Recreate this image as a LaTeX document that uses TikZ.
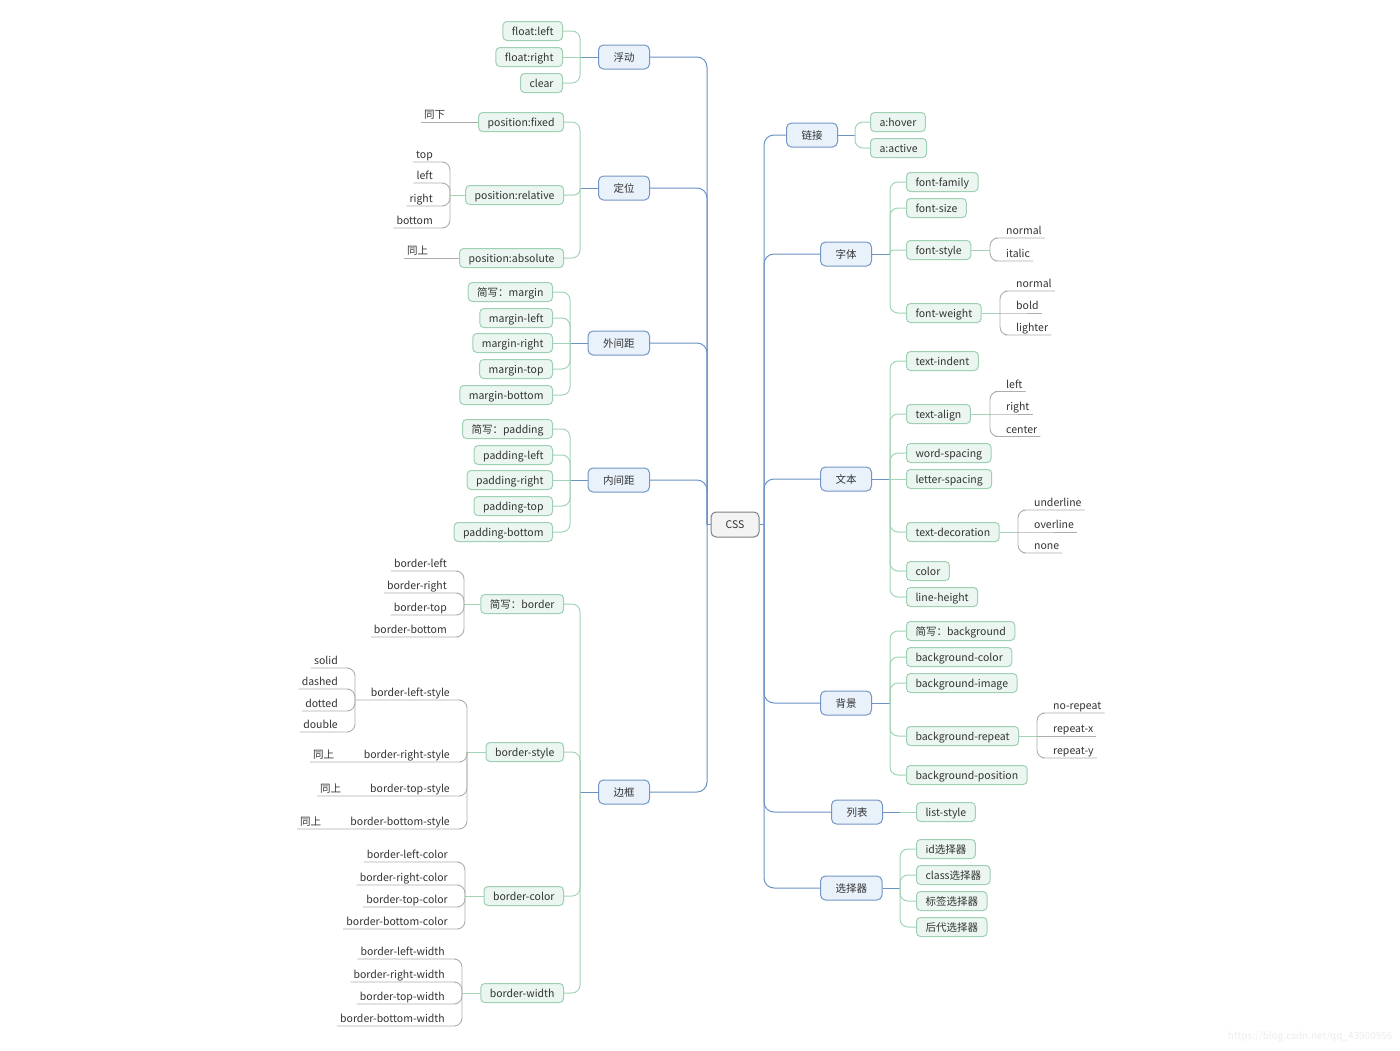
\documentclass[tikz,border=0pt]{standalone}
\usepackage{fontspec}
\setmainfont{Noto Sans CJK SC}
\usetikzlibrary{calc}
\definecolor{txt}{HTML}{333333}
\definecolor{bborder}{HTML}{7596C4}
\definecolor{bfill}{HTML}{E9F1FB}
\definecolor{bline}{HTML}{6C93C6}
\definecolor{gborder}{HTML}{9FD0B3}
\definecolor{gfill}{HTML}{EAF6EF}
\definecolor{gline}{HTML}{A3D4B6}
\definecolor{gyline}{HTML}{ADADAD}
\definecolor{cborder}{HTML}{808080}
\definecolor{cfill}{HTML}{F3F3F3}
\begin{document}
\begin{tikzpicture}[x=1pt,y=-1pt,
  font=\fontsize{10.5}{12.5}\selectfont, text=txt,
  bbox/.style={draw=bborder, fill=bfill, rounded corners=5pt, minimum height=24pt, inner xsep=15pt, inner ysep=0pt, text height=10pt, text depth=1.5pt, line width=1pt},
  cbox/.style={draw=cborder, fill=cfill, rounded corners=5pt, minimum height=25pt, minimum width=48pt, inner ysep=0pt, text height=10pt, text depth=1.5pt, line width=1pt},
  gbox/.style={draw=gborder, fill=gfill, rounded corners=4pt, minimum height=19pt, inner xsep=9pt, inner ysep=0pt, text height=10pt, text depth=1.5pt, line width=1pt},
  ptxt/.style={inner xsep=3pt, inner ysep=0.5pt, text height=8.5pt, text depth=2.5pt},
  bl/.style={draw=bline, line width=1pt},
  gl/.style={draw=gline, line width=1pt},
  gy/.style={draw=gyline, line width=0.9pt},
  rc/.style={rounded corners=8pt},
  rt/.style={rounded corners=10pt}]
\useasboundingbox (0,0) rectangle (1400,1050);
\fill[white] (0,0) rectangle (1400,1050);

% ---------- centre ----------
\node[cbox] (css) at (735,524.5) {CSS};
\coordinate (TL) at (707,524.5);
\coordinate (TR) at (764,524.5);

% ---------- left main ----------
\node[bbox, anchor=east] (fu) at (650,57) {浮动};
\node[bbox, anchor=east] (dw) at (650,188) {定位};
\node[bbox, anchor=east] (wj) at (650,343) {外间距};
\node[bbox, anchor=east] (nj) at (650,480) {内间距};
\node[bbox, anchor=east] (bk) at (650,792) {边框};

% ---------- right main ----------
\node[bbox, anchor=west] (lj) at (786,135) {链接};
\node[bbox, anchor=west] (zt) at (820,254) {字体};
\node[bbox, anchor=west] (wb) at (820,479) {文本};
\node[bbox, anchor=west] (bj) at (820,703) {背景};
\node[bbox, anchor=west] (lb) at (831,812) {列表};
\node[bbox, anchor=west] (xz) at (820,888) {选择器};

% ---------- left green ----------
\node[gbox, anchor=east] (fl) at (563,31) {float:left};
\node[gbox, anchor=east] (fr) at (563,57) {float:right};
\node[gbox, anchor=east] (cl) at (563,83) {clear};
\node[gbox, anchor=east] (pf) at (564,122) {position:fixed};
\node[gbox, anchor=east] (pr) at (564,195) {position:relative};
\node[gbox, anchor=east] (pa) at (564,258) {position:absolute};
\node[gbox, anchor=east] (m0) at (553,292) {简写：margin};
\node[gbox, anchor=east] (m1) at (553,318) {margin-left};
\node[gbox, anchor=east] (m2) at (553,343) {margin-right};
\node[gbox, anchor=east] (m3) at (553,369) {margin-top};
\node[gbox, anchor=east] (m4) at (553,395) {margin-bottom};
\node[gbox, anchor=east] (p0) at (553,429) {简写：padding};
\node[gbox, anchor=east] (p1) at (553,455) {padding-left};
\node[gbox, anchor=east] (p2) at (553,480) {padding-right};
\node[gbox, anchor=east] (p3) at (553,506) {padding-top};
\node[gbox, anchor=east] (p4) at (553,532) {padding-bottom};
\node[gbox, anchor=east] (b0) at (564,604) {简写：border};
\node[gbox, anchor=east] (b1) at (564,752) {border-style};
\node[gbox, anchor=east] (b2) at (564,896) {border-color};
\node[gbox, anchor=east] (b3) at (564,993) {border-width};

% ---------- right green ----------
\node[gbox, anchor=west] (ah) at (870,122) {a:hover};
\node[gbox, anchor=west] (aa) at (870,148) {a:active};
\node[gbox, anchor=west] (ff) at (906,182) {font-family};
\node[gbox, anchor=west] (fs) at (906,208) {font-size};
\node[gbox, anchor=west] (fst) at (906,250) {font-style};
\node[gbox, anchor=west] (fw) at (906,313) {font-weight};
\node[gbox, anchor=west] (ti) at (906,361) {text-indent};
\node[gbox, anchor=west] (ta) at (906,414) {text-align};
\node[gbox, anchor=west] (ws) at (906,453) {word-spacing};
\node[gbox, anchor=west] (ls) at (906,479) {letter-spacing};
\node[gbox, anchor=west] (td) at (906,532) {text-decoration};
\node[gbox, anchor=west] (co) at (906,571) {color};
\node[gbox, anchor=west] (lh) at (906,597) {line-height};
\node[gbox, anchor=west] (g0) at (906,631) {简写：background};
\node[gbox, anchor=west] (g1) at (906,657) {background-color};
\node[gbox, anchor=west] (g2) at (906,683) {background-image};
\node[gbox, anchor=west] (g3) at (906,736) {background-repeat};
\node[gbox, anchor=west] (g4) at (906,775) {background-position};
\node[gbox, anchor=west] (lst) at (916,812) {list-style};
\node[gbox, anchor=west] (s1) at (916,849) {id选择器};
\node[gbox, anchor=west] (s2) at (916,875) {class选择器};
\node[gbox, anchor=west] (s3) at (916,901) {标签选择器};
\node[gbox, anchor=west] (s4) at (916,927) {后代选择器};

% ---------- left plain ----------
\node[ptxt, anchor=south west] (txa) at (421,122) {同下};
\node[ptxt, anchor=south east] (rtop) at (436,162) {top};
\node[ptxt, anchor=south east] (rleft) at (436,183) {left};
\node[ptxt, anchor=south east] (rright) at (436,206) {right};
\node[ptxt, anchor=south east] (rbottom) at (436,228) {bottom};
\node[ptxt, anchor=south west] (txb) at (404,258) {同上};

\node[ptxt, anchor=south east] (bdl) at (450,571) {border-left};
\node[ptxt, anchor=south east] (bdr) at (450,593) {border-right};
\node[ptxt, anchor=south east] (bdt) at (450,615) {border-top};
\node[ptxt, anchor=south east] (bdb) at (450,637) {border-bottom};

\node[ptxt, anchor=south east] (bls) at (453,700) {border-left-style};
\node[ptxt, anchor=south east] (brs) at (453,762) {border-right-style};
\node[ptxt, anchor=south east] (bts) at (453,796) {border-top-style};
\node[ptxt, anchor=south east] (bbs) at (453,829) {border-bottom-style};
\node[ptxt, anchor=south west] (tsa) at (310,762) {同上};
\node[ptxt, anchor=south west] (tsb) at (317,796) {同上};
\node[ptxt, anchor=south west] (tsc) at (297,829) {同上};

\node[ptxt, anchor=south east] (vsol) at (341,668) {solid};
\node[ptxt, anchor=south east] (vdas) at (341,689) {dashed};
\node[ptxt, anchor=south east] (vdot) at (341,711) {dotted};
\node[ptxt, anchor=south east] (vdou) at (341,732) {double};

\node[ptxt, anchor=south east] (clc) at (451,862) {border-left-color};
\node[ptxt, anchor=south east] (crc) at (451,885) {border-right-color};
\node[ptxt, anchor=south east] (ctc) at (451,907) {border-top-color};
\node[ptxt, anchor=south east] (cbc) at (451,929) {border-bottom-color};

\node[ptxt, anchor=south east] (wlw) at (448,959) {border-left-width};
\node[ptxt, anchor=south east] (wrw) at (448,982) {border-right-width};
\node[ptxt, anchor=south east] (wtw) at (448,1004) {border-top-width};
\node[ptxt, anchor=south east] (wbw) at (448,1026) {border-bottom-width};

% ---------- right plain ----------
\node[ptxt, anchor=south west] (fsn) at (1003,238) {normal};
\node[ptxt, anchor=south west] (fsi) at (1003,261) {italic};
\node[ptxt, anchor=south west] (fwn) at (1013,291) {normal};
\node[ptxt, anchor=south west] (fwb) at (1013,313) {bold};
\node[ptxt, anchor=south west] (fwl) at (1013,335) {lighter};
\node[ptxt, anchor=south west] (tal) at (1003,391.5) {left};
\node[ptxt, anchor=south west] (tar) at (1003,414) {right};
\node[ptxt, anchor=south west] (tac) at (1003,436.5) {center};
\node[ptxt, anchor=south west] (tdu) at (1031,510) {underline};
\node[ptxt, anchor=south west] (tdo) at (1031,532) {overline};
\node[ptxt, anchor=south west] (tdn) at (1031,553) {none};
\node[ptxt, anchor=south west] (rpn) at (1050,713) {no-repeat};
\node[ptxt, anchor=south west] (rpx) at (1050,736) {repeat-x};
\node[ptxt, anchor=south west] (rpy) at (1050,758) {repeat-y};

% watermark
\node[anchor=east, text=black!7, font=\fontsize{10}{12}\selectfont] (wm) at (1396,1037) {https://blog.csdn.net/qq\_43900956};

% ================= connectors =================
% trunks
\draw[bl] (css.west) -- (TL);
\draw[bl] (css.east) -- (TR);
\foreach \m in {fu,dw,wj,nj,bk} \draw[bl,rt] (TL) |- (\m.east);
\foreach \m in {lj,zt,wb,bj,lb,xz} \draw[bl,rt] (TR) |- (\m.west);

% left blue -> green
\coordinate (Jfu) at (580,57);
\draw[bl] (fu.west) -- (Jfu);
\draw[gl] (Jfu) -- (fr.east);
\foreach \c in {fl,cl} \draw[gl,rc] (Jfu) |- (\c.east);

\coordinate (Jdw) at (580,188);
\draw[bl] (dw.west) -- (Jdw);
\foreach \c in {pf,pa} \draw[gl,rc] (Jdw) |- (\c.east);
\draw[gl,rounded corners=6pt] (Jdw) |- (pr.east);

\coordinate (Jwj) at (570,343);
\draw[bl] (wj.west) -- (Jwj);
\draw[gl] (Jwj) -- (m2.east);
\foreach \c in {m0,m1,m3,m4} \draw[gl,rc] (Jwj) |- (\c.east);

\coordinate (Jnj) at (570,480);
\draw[bl] (nj.west) -- (Jnj);
\draw[gl] (Jnj) -- (p2.east);
\foreach \c in {p0,p1,p3,p4} \draw[gl,rc] (Jnj) |- (\c.east);

\coordinate (Jbk) at (580,792);
\draw[bl] (bk.west) -- (Jbk);
\foreach \c in {b0,b1,b2,b3} \draw[gl,rc] (Jbk) |- (\c.east);

% position
\draw[gy] (pf.west) -- (txa.south west);
\draw[gy] (pa.west) -- (txb.south west);
\coordinate (Jpr) at (450,195);
\draw[gl] (pr.west) -- (Jpr);
\foreach \c in {rtop,rleft,rright,rbottom} \draw[gy,rc] (Jpr) |- (\c.south east) -- (\c.south west);

% border
\coordinate (Jb0) at (464,604);
\draw[gl] (b0.west) -- (Jb0);
\foreach \c in {bdl,bdr,bdt,bdb} \draw[gy,rc] (Jb0) |- (\c.south east) -- (\c.south west);

\coordinate (Jb1) at (467,752);
\draw[gl] (b1.west) -- (Jb1);
\coordinate (Jbls) at (355,700);
\draw[gy,rc] (Jb1) |- (bls.south east) -- (bls.south west) -- (Jbls);
\draw[gy,rc] (Jb1) |- (brs.south east) -- (brs.south west) -- (tsa.south west);
\draw[gy,rc] (Jb1) |- (bts.south east) -- (bts.south west) -- (tsb.south west);
\draw[gy,rc] (Jb1) |- (bbs.south east) -- (bbs.south west) -- (tsc.south west);
\foreach \c in {vsol,vdas,vdot,vdou} \draw[gy,rc] (Jbls) |- (\c.south east) -- (\c.south west);

\coordinate (Jb2) at (465,896);
\draw[gl] (b2.west) -- (Jb2);
\foreach \c in {clc,crc,ctc,cbc} \draw[gy,rc] (Jb2) |- (\c.south east) -- (\c.south west);

\coordinate (Jb3) at (462,993);
\draw[gl] (b3.west) -- (Jb3);
\foreach \c in {wlw,wrw,wtw,wbw} \draw[gy,rc] (Jb3) |- (\c.south east) -- (\c.south west);

% right blue -> green
\coordinate (Jlj) at (855,135);
\draw[bl] (lj.east) -- (Jlj);
\foreach \c in {ah,aa} \draw[gl,rc] (Jlj) |- (\c.west);

\coordinate (Jzt) at (890,254);
\draw[bl] (zt.east) -- (Jzt);
\foreach \c in {ff,fs,fw} \draw[gl,rc] (Jzt) |- (\c.west);
\draw[gl,rounded corners=3pt] (Jzt) |- (fst.west);

\coordinate (Jwb) at (890,479);
\draw[bl] (wb.east) -- (Jwb);
\draw[gl] (Jwb) -- (ls.west);
\foreach \c in {ti,ta,ws,td,co,lh} \draw[gl,rc] (Jwb) |- (\c.west);

\coordinate (Jbj) at (890,703);
\draw[bl] (bj.east) -- (Jbj);
\foreach \c in {g0,g1,g2,g3,g4} \draw[gl,rc] (Jbj) |- (\c.west);

\coordinate (Jlb) at (900,812);
\draw[bl] (lb.east) -- (Jlb);
\draw[gl] (Jlb) -- (lst.west);

\coordinate (Jxz) at (900,888);
\draw[bl] (xz.east) -- (Jxz);
\foreach \c in {s1,s2,s3,s4} \draw[gl,rc] (Jxz) |- (\c.west);

% right plain
\coordinate (Jfst) at (990,250);
\draw[gl] (fst.east) -- (Jfst);
\foreach \c in {fsn,fsi} \draw[gy,rc] (Jfst) |- (\c.south west) -- (\c.south east);

\coordinate (Jfw) at (1000,313);
\draw[gl] (fw.east) -- (Jfw);
\draw[gy] (Jfw) -- (fwb.south west) -- (fwb.south east);
\foreach \c in {fwn,fwl} \draw[gy,rc] (Jfw) |- (\c.south west) -- (\c.south east);

\coordinate (Jta) at (990,414);
\draw[gl] (ta.east) -- (Jta);
\draw[gy] (Jta) -- (tar.south west) -- (tar.south east);
\foreach \c in {tal,tac} \draw[gy,rc] (Jta) |- (\c.south west) -- (\c.south east);

\coordinate (Jtd) at (1018,532);
\draw[gl] (td.east) -- (Jtd);
\draw[gy] (Jtd) -- (tdo.south west) -- (tdo.south east);
\foreach \c in {tdu,tdn} \draw[gy,rc] (Jtd) |- (\c.south west) -- (\c.south east);

\coordinate (Jg3) at (1037,736);
\draw[gl] (g3.east) -- (Jg3);
\draw[gy] (Jg3) -- (rpx.south west) -- (rpx.south east);
\foreach \c in {rpn,rpy} \draw[gy,rc] (Jg3) |- (\c.south west) -- (\c.south east);
\end{tikzpicture}
\end{document}
